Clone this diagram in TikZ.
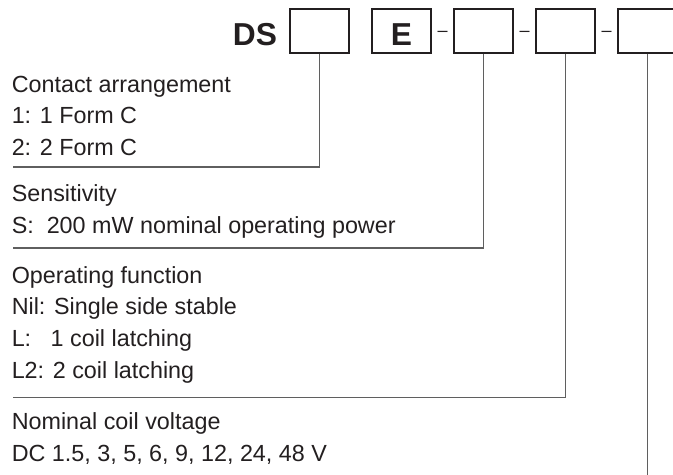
\documentclass[tikz,border=0pt]{standalone}
\usepackage{fontspec}
\setmainfont{Liberation Sans}
\usepackage{xcolor}
\usetikzlibrary{positioning}
\definecolor{ink}{RGB}{35,31,32}
\definecolor{leader}{RGB}{95,95,95}

\begin{document}
\begin{tikzpicture}[x=0.75pt, y=-0.75pt,
  slot/.style={rectangle, draw=ink, line width=0.8pt, minimum width=44.25pt,
               minimum height=33pt, inner sep=0pt},
  code/.style={font=\fontsize{23.8}{28}\selectfont\bfseries, text=ink, inner sep=0pt, anchor=base},
  sepmark/.style={font=\fontsize{13.5}{16}\selectfont, text=ink, inner sep=0pt, anchor=base},
  desc/.style={align=left, anchor=base west, inner sep=0pt, text=ink,
               font=\fontsize{17.5}{23.7}\selectfont},
  conn/.style={draw=leader, line width=0.9pt}
]
  \useasboundingbox (0,0) rectangle (673,474);

  % type code
  \node[code, anchor=base west] (ds) at (232.6,45.7) {DS};
  \node[slot] (b1) at (319.5,31) {};
  \node[slot] (b2) at (401.5,31) {};
  \node[code] (e) at (401.5,45.7) {E};
  \node[sepmark] (d1) at (442.5,36.7) {\textendash};
  \node[slot] (b3) at (483.5,31) {};
  \node[sepmark] (d2) at (524.5,36.7) {\textendash};
  \node[slot] (b4) at (565.5,31) {};
  \node[sepmark] (d3) at (606.5,36.7) {\textendash};
  \node[slot] (b5) at (647.5,31) {};

  % descriptions (anchored on their last line)
  \node[desc] (contact) at (11.5,155.2) {Contact arrangement\\1: 1 Form C\\2: 2 Form C};
  \node[desc] (sens) at (11.5,233.2) {Sensitivity\\S:\ \ 200 mW nominal operating power};
  \node[desc] (func) at (11.5,378) {Operating function\\Nil: Single side stable\\L:\hphantom{2} 1 coil latching\\L2: 2 coil latching};
  \node[desc] (volt) at (11.5,461.5) {Nominal coil voltage\\DC 1.5, 3, 5, 6, 9, 12, 24, 48 V};

  % leaders
  \coordinate (r1) at (12.7,167);
  \coordinate (r2) at (12.7,248);
  \coordinate (r3) at (12.7,397.7);
  \coordinate (r4) at (647.5,480);
  \draw[conn] (b1.south) |- (r1);
  \draw[conn] (b3.south) |- (r2);
  \draw[conn] (b4.south) |- (r3);
  \draw[conn] (b5.south) -- (r4);
\end{tikzpicture}
\end{document}
